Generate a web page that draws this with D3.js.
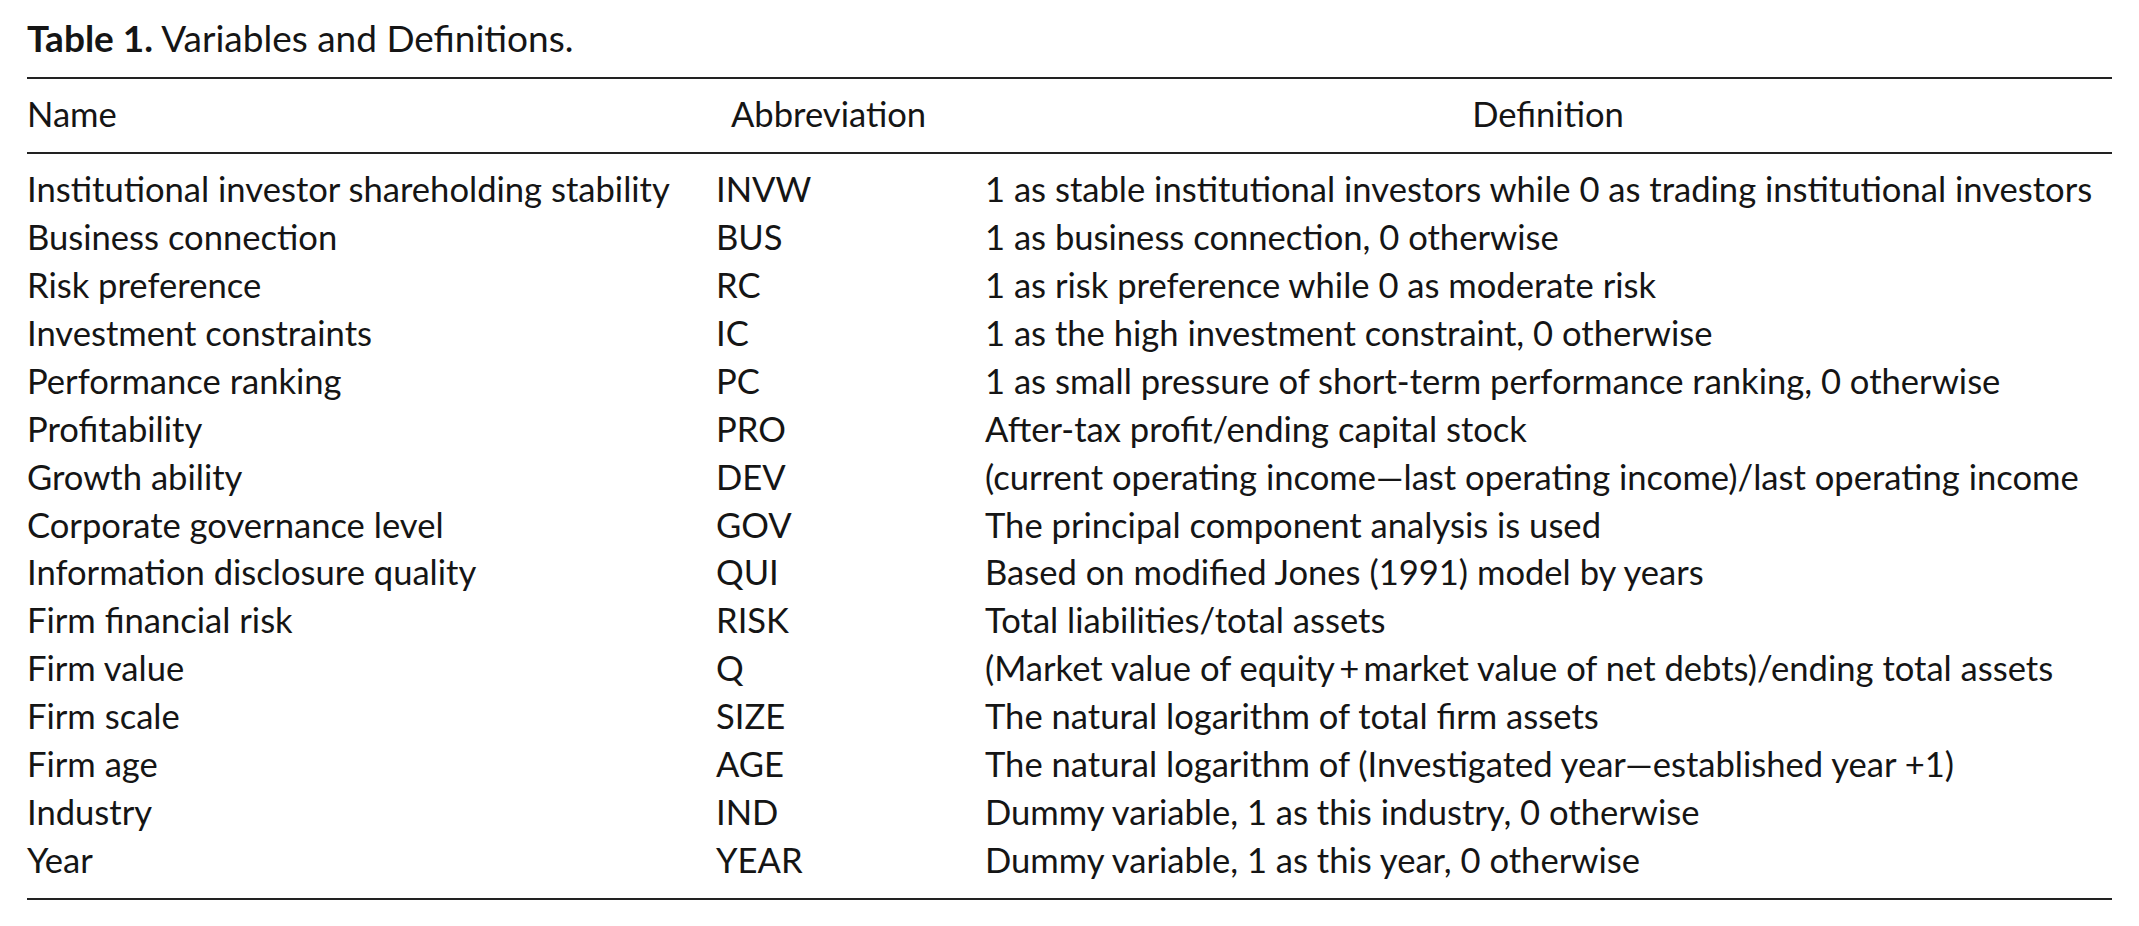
<!DOCTYPE html>
<html>
<head>
<meta charset="utf-8">
<script src="https://cdnjs.cloudflare.com/ajax/libs/d3/7.8.5/d3.min.js"></script>
<style>
  body { margin: 0; background: #fff; }
  text { font-family: Lato, "Open Sans", sans-serif; fill: #151515; }
</style>
</head>
<body>
<div id="chart"></div>
<script>
// Table content
var titleBold = "Table 1.";
var titleRest = " Variables and Definitions.";
var headers = ["Name", "Abbreviation", "Definition"];

var names = [
    "Institutional investor shareholding stability",
    "Business connection",
    "Risk preference",
    "Investment constraints",
    "Performance ranking",
    "Profitability",
    "Growth ability",
    "Corporate governance level",
    "Information disclosure quality",
    "Firm financial risk",
    "Firm value",
    "Firm scale",
    "Firm age",
    "Industry",
    "Year"
];

var abbreviations = ["INVW", "BUS", "RC", "IC", "PC", "PRO", "DEV", "GOV", "QUI",
    "RISK", "Q", "SIZE", "AGE", "IND", "YEAR"];

var definitions = [
    "1 as stable institutional investors while 0 as trading institutional investors",
    "1 as business connection, 0 otherwise",
    "1 as risk preference while 0 as moderate risk",
    "1 as the high investment constraint, 0 otherwise",
    "1 as small pressure of short-term performance ranking, 0 otherwise",
    "After-tax profit/ending capital stock",
    "(current operating income\u2014last operating income)/last operating income",
    "The principal component analysis is used",
    "Based on modified Jones (1991) model by years",
    "Total liabilities/total assets",
    "(Market value of equity\u2009+\u2009market value of net debts)/ending total assets",
    "The natural logarithm of total firm assets",
    "The natural logarithm of (Investigated year\u2014established year +1)",
    "Dummy variable, 1 as this industry, 0 otherwise",
    "Dummy variable, 1 as this year, 0 otherwise"
];

function init() {
    var w = 2139;
    var h = 926;

    var svg = d3.select("#chart")
        .append("svg")
        .attr("width", w)
        .attr("height", h);

    svg.append("rect").attr("width", w).attr("height", h).attr("fill", "#fff");

    var left = 27, right = 2112;

    // fit the body font to the width of the longest name
    var probe = svg.append("text").attr("font-size", 30).text(names[0]);
    var bodySize = 30 * 643 / probe.node().getComputedTextLength();
    probe.remove();

    // row baselines
    var y = d3.scaleLinear()
        .domain([0, names.length - 1])
        .range([202, 873]);

    // column positions
    var colX = d3.scaleOrdinal()
        .domain(["name", "abbr", "def"])
        .range([left, 716, 985]);

    // title
    var title = svg.append("text")
        .attr("x", left)
        .attr("y", 52)
        .attr("font-size", bodySize * 1.07);
    title.append("tspan").attr("font-weight", "bold").text(titleBold);
    title.append("tspan").text(titleRest);

    // rules
    [78, 153, 899].forEach(function (ry) {
        svg.append("line")
            .attr("x1", left).attr("x2", right)
            .attr("y1", ry).attr("y2", ry)
            .attr("stroke", "#222")
            .attr("stroke-width", 2);
    });

    // header row
    var headerY = 127;
    svg.append("text").attr("x", colX("name")).attr("y", headerY)
        .attr("font-size", bodySize).text(headers[0]);
    svg.append("text").attr("x", 731).attr("y", headerY)
        .attr("font-size", bodySize).text(headers[1]);
    svg.append("text").attr("x", 1548).attr("y", headerY)
        .attr("text-anchor", "middle")
        .attr("font-size", bodySize).text(headers[2]);

    // body rows
    var rows = names.map(function (n, i) {
        return { name: n, abbr: abbreviations[i], def: definitions[i], i: i };
    });

    var g = svg.append("g").attr("font-size", bodySize);

    ["name", "abbr", "def"].forEach(function (key) {
        g.selectAll(".cell-" + key)
            .data(rows)
            .enter().append("text")
            .attr("class", "cell-" + key)
            .attr("x", colX(key))
            .attr("y", function (d) { return y(d.i); })
            .text(function (d) { return d[key]; });
    });
}

window.onload = init;
</script>
</body>
</html>
